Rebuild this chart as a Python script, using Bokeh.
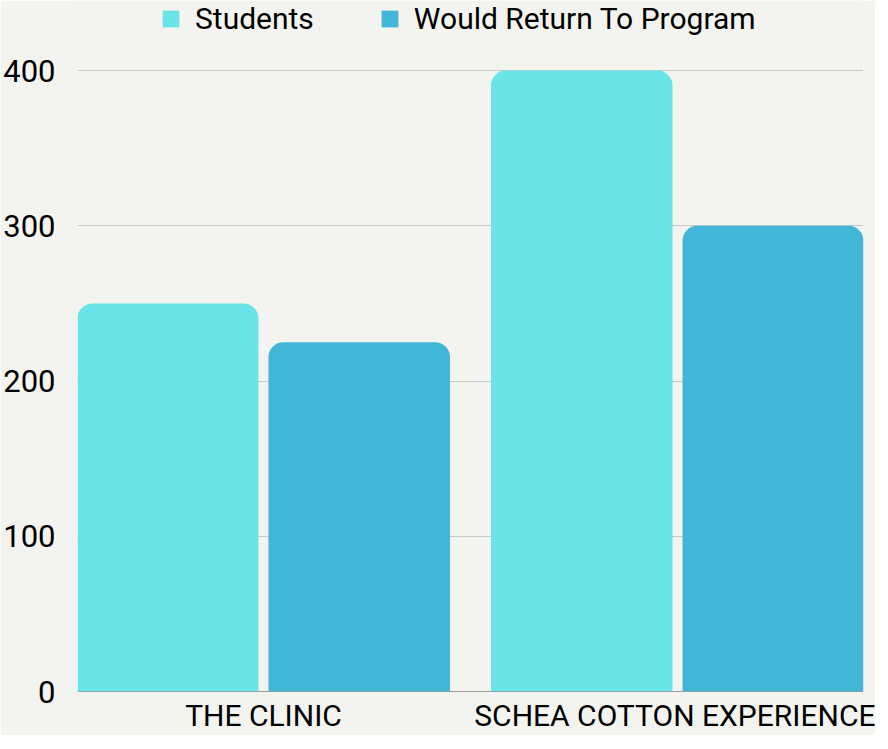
from bokeh.plotting import figure
from bokeh.models import FactorRange, Legend, LegendItem, Span, ColumnDataSource, FixedTicker
from bokeh.embed import file_html
from bokeh.resources import INLINE
from bokeh.transform import dodge

programs = ["THE CLINIC", "SCHEA COTTON EXPERIENCE"]
series = ["Students", "Would Return To Program"]
students = [250, 400]
would_return = [225, 300]
colors = ["#6be4e8", "#41b6d6"]
y_ticks = [0, 100, 200, 300, 400]

FONT = "Roboto"
BG = "#f3f4ef"

src = ColumnDataSource(dict(x=programs, students=students, would_return=would_return))

# frame extends to the top of the figure so the legend can sit inside it
p = figure(width=872, height=733, frame_width=786, frame_height=691,
           output_backend="svg", toolbar_location=None,
           x_range=FactorRange(*programs, range_padding=0, factor_padding=0.113),
           y_range=(0, 445.1),
           background_fill_color=BG, border_fill_color=BG,
           min_border_left=74, min_border_right=12, min_border_top=0, min_border_bottom=42)
p.outline_line_color = None

BW = 0.488
OFF = 0.2574
r1 = p.vbar(x=dodge("x", -OFF, range=p.x_range), top="students", width=BW, source=src,
            line_color=None, fill_color=colors[0], border_radius=[15, 15, 0, 0])
r2 = p.vbar(x=dodge("x", OFF, range=p.x_range), top="would_return", width=BW, source=src,
            line_color=None, fill_color=colors[1], border_radius=[15, 15, 0, 0])

p.add_layout(Span(location=0, dimension="width", line_color="#444444", line_width=1, level="underlay"))

p.yaxis.ticker = FixedTicker(ticks=y_ticks)
p.yaxis.axis_line_color = None
p.yaxis.major_tick_line_color = None
p.yaxis.minor_tick_line_color = None
p.yaxis.major_tick_out = 0
p.yaxis.major_tick_in = 0
p.yaxis.minor_tick_out = 0
p.yaxis.major_label_text_font = FONT
p.yaxis.major_label_text_font_size = "31px"
p.yaxis.major_label_text_color = "#000000"
p.yaxis.major_label_standoff = 22

p.xaxis.axis_line_color = None
p.xaxis.major_tick_line_color = None
p.xaxis.minor_tick_line_color = None
p.xaxis.major_tick_out = 0
p.xaxis.major_tick_in = 0
p.xaxis.major_label_text_font = FONT
p.xaxis.major_label_text_font_size = "30px"
p.xaxis.major_label_text_color = "#000000"
p.xaxis.major_label_standoff = 6

p.xgrid.grid_line_color = None
p.ygrid.grid_line_color = "#c8c8c4"
p.ygrid.grid_line_width = 1

legend = Legend(items=[LegendItem(label=series[0], renderers=[r1]),
                       LegendItem(label=series[1], renderers=[r2])],
                orientation="horizontal", location=(83, 655),
                background_fill_alpha=0, border_line_color=None,
                label_text_font=FONT, label_text_font_size="30px", label_text_color="#000000",
                glyph_width=21, glyph_height=21, label_standoff=14, spacing=65,
                padding=0, margin=0)
p.add_layout(legend)

open("out.html", "w").write(file_html(p, INLINE))
